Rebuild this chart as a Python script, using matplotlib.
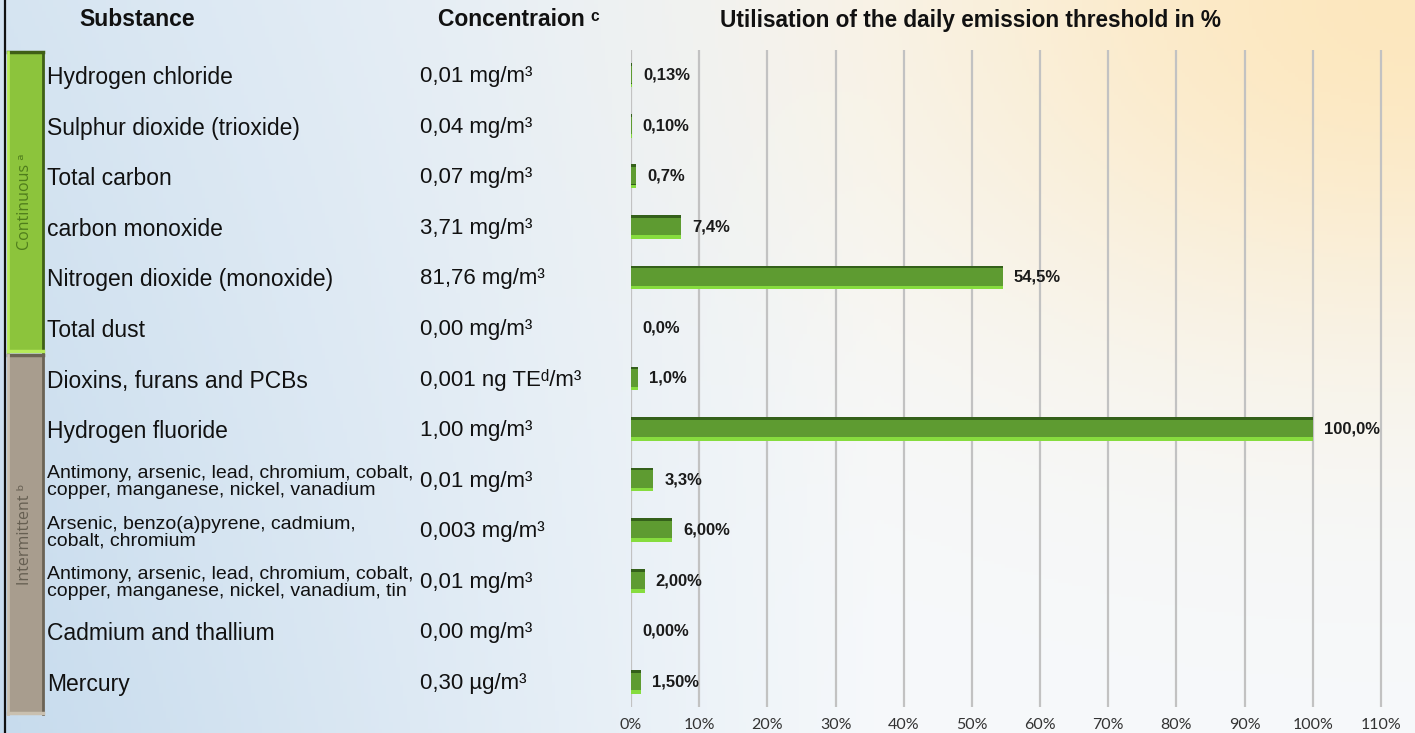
import matplotlib
matplotlib.use('Agg')
import matplotlib.pyplot as plt
import matplotlib.transforms as mtransforms
from matplotlib.patches import Rectangle
from matplotlib.lines import Line2D
import numpy as np

plt.rcParams['font.family'] = ['Liberation Sans', 'DejaVu Sans']

substances = [
    'Hydrogen chloride',
    'Sulphur dioxide (trioxide)',
    'Total carbon',
    'carbon monoxide',
    'Nitrogen dioxide (monoxide)',
    'Total dust',
    'Dioxins, furans and PCBs',
    'Hydrogen fluoride',
    'Antimony, arsenic, lead, chromium, cobalt,\ncopper, manganese, nickel, vanadium',
    'Arsenic, benzo(a)pyrene, cadmium,\ncobalt, chromium',
    'Antimony, arsenic, lead, chromium, cobalt,\ncopper, manganese, nickel, vanadium, tin',
    'Cadmium and thallium',
    'Mercury',
]
concentrations = [
    '0,01 mg/m³', '0,04 mg/m³', '0,07 mg/m³', '3,71 mg/m³',
    '81,76 mg/m³', '0,00 mg/m³', '0,001 ng TEᵈ/m³', '1,00 mg/m³',
    '0,01 mg/m³', '0,003 mg/m³', '0,01 mg/m³', '0,00 mg/m³',
    '0,30 µg/m³',
]
utilisation = [0.13, 0.10, 0.7, 7.4, 54.5, 0.0, 1.0, 100.0, 3.3, 6.0, 2.0, 0.0, 1.5]
value_labels = ['0,13%', '0,10%', '0,7%', '7,4%', '54,5%', '0,0%', '1,0%',
                '100,0%', '3,3%', '6,00%', '2,00%', '0,00%', '1,50%']
groups = ['Continuous ᵃ', 'Intermittent ᵇ']
group_sizes = [6, 7]
x_ticks = list(range(0, 111, 10))

W, H = 1415, 733
fig = plt.figure(figsize=(W / 100, H / 100), dpi=100)

# background gradient (blue left, white middle, warm top right)
bg = fig.add_axes([0, 0, 1, 1], zorder=-10)
gx, gy = np.meshgrid(np.linspace(0, 1, 400), np.linspace(0, 1, 200))
blue = np.array([0.78, 0.86, 0.93])
white = np.array([0.965, 0.975, 0.985])
orange = np.array([0.995, 0.90, 0.72])
wb = np.clip(1 - gx / 0.62, 0, 1) ** 1.0 * (0.7 + 0.3 * gy)
wo = np.exp(-((gx - 1.0) ** 2 / 0.14 + gy ** 2 / 0.22)) * 0.9
wb = wb * (1 - wo)
img = (white[None, None, :] * (1 - wb - wo)[..., None]
       + blue[None, None, :] * wb[..., None]
       + orange[None, None, :] * wo[..., None])
bg.imshow(np.clip(img, 0, 1), aspect='auto', extent=[0, 1, 0, 1])
bg.set_axis_off()

# left frame line
fig.add_artist(Line2D([5 / W, 5 / W], [0, 1], color='#111111', lw=1.6))

ax = fig.add_axes([631 / W, (H - 707) / H, (W - 631) / W, (707 - 50) / H])
ax.patch.set_alpha(0)
y = np.arange(len(substances))

# bevelled bars: light base, dark top edge, mid-green body
ax.barh(y, utilisation, height=0.47, color='#86dc3e', zorder=3)
ax.barh(y - 0.035, utilisation, height=0.40, color='#34601a', zorder=4)
ax.barh(y - 0.01, utilisation, height=0.34, color='#5e9b31', zorder=5)

for yi, v, lab in zip(y, utilisation, value_labels):
    ax.annotate(lab, (v, yi), xytext=(8, 0), textcoords='offset points',
                ha='left', va='center', fontsize=12, fontweight='bold',
                color='#1a1a1a', zorder=6)

ax.set_xlim(0, 115)
ax.set_ylim(12.5, -0.5)
ax.set_xticks(x_ticks)
ax.set_xticklabels([f'{t}%' for t in x_ticks], family=['Lato', 'DejaVu Sans'],
                   fontsize=11.5, color='#333333')
ax.tick_params(axis='x', length=0, pad=8)
ax.tick_params(axis='y', left=False, labelleft=False)
ax.set_yticks([])
ax.grid(axis='x', color='#c2c2c2', lw=1.6, zorder=1)
ax.set_axisbelow(True)
for s in ax.spines.values():
    s.set_visible(False)

# text columns
tr = mtransforms.blended_transform_factory(fig.transFigure, ax.transData)
for yi, name, conc in zip(y, substances, concentrations):
    fs = 14 if '\n' in name else 16.5
    ax.text(47 / W, yi + 0.05, name, transform=tr, ha='left', va='center',
            fontsize=fs, color='#111111', linespacing=1.0, clip_on=False)
    ax.text(420 / W, yi + 0.03, conc, transform=tr, ha='left', va='center',
            fontsize=16, color='#111111', clip_on=False)

# headers
hy = 1 - 20 / H
fig.text(137 / W, hy, 'Substance', ha='center', va='center', fontsize=16.5,
         fontweight='bold', color='#111111')
fig.text(438 / W, hy, 'Concentraion ᶜ', ha='left', va='center', fontsize=16.5,
         fontweight='bold', color='#111111')
fig.text(971 / W, hy, 'Utilisation of the daily emission threshold in %',
         ha='center', va='center', fontsize=16.3, fontweight='bold', color='#111111')

# group side bars
fills = ['#8cc43c', '#a89d8e']
light = ['#b6ea5a', '#c9c0b0']
dark = ['#3f6016', '#6b6355']
txtc = ['#4f7d1c', '#665f52']
start = -0.5
trx = mtransforms.blended_transform_factory(fig.transFigure, ax.transData)
for gi, (g, n) in enumerate(zip(groups, group_sizes)):
    end = start + n
    if gi == len(groups) - 1:
        end += 0.15
    x0, x1 = 8 / W, 43 / W
    ax.add_patch(Rectangle((x0, start + 0.02), x1 - x0, end - start - 0.04,
                           transform=trx, facecolor=fills[gi], edgecolor='none',
                           clip_on=False, zorder=2))
    ax.add_line(Line2D([x0, x1], [start + 0.04, start + 0.04], transform=trx,
                       color=dark[gi], lw=2.5, clip_on=False, zorder=3))
    ax.add_line(Line2D([x1, x1], [start + 0.04, end - 0.02], transform=trx,
                       color=dark[gi], lw=2, clip_on=False, zorder=3))
    ax.add_line(Line2D([x0, x0], [start + 0.04, end - 0.02], transform=trx,
                       color=light[gi], lw=2, clip_on=False, zorder=3))
    ax.add_line(Line2D([x0, x1], [end - 0.04, end - 0.04], transform=trx,
                       color=light[gi], lw=2.5, clip_on=False, zorder=3))
    ax.text(25 / W, (start + end) / 2, g, transform=trx, rotation=90,
            ha='center', va='center', fontsize=11.5, color=txtc[gi],
            family=['Open Sans', 'DejaVu Sans'], clip_on=False, zorder=4)
    start = start + n

fig.savefig('out.png', dpi=100)
